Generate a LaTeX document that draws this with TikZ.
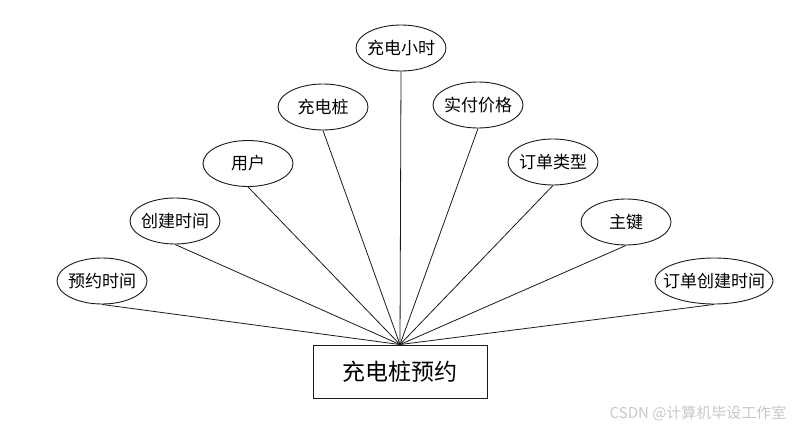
\documentclass[tikz,border=0pt]{standalone}
\usepackage{fontspec}
\setmainfont{Noto Sans CJK SC}
\usetikzlibrary{shapes.geometric}
\definecolor{erLine}{HTML}{1A1A1A}
\definecolor{erMark}{HTML}{C8C8C8}
\tikzset{
  er attr/.style={ellipse, draw=erLine, line width=0.9pt, minimum width=90pt, minimum height=46pt, inner xsep=-10pt, inner ysep=0pt, font=\fontsize{17}{19}\selectfont},
  er entity/.style={rectangle, draw=erLine, line width=0.9pt, minimum width=174pt, minimum height=53pt, inner sep=0pt, font=\fontsize{23}{26}\selectfont},
  er link/.style={draw=erLine, line width=0.8pt},
  er mark/.style={font=\fontsize{15}{17}\selectfont, text=erMark, anchor=east},
}
\begin{document}
\begin{tikzpicture}[x=1pt,y=-1pt]
\useasboundingbox (0,0) rectangle (800,430);
\node[er entity](booking)at(400,371.5){充电桩预约};
\node[er attr](a1)at(102,281){预约时间};
\node[er attr](a2)at(175,221){创建时间};
\node[er attr](a3)at(248,163.5){用户};
\node[er attr](a4)at(323,107){充电桩};
\node[er attr](a5)at(401,48){充电小时};
\node[er attr](a6)at(478,105){实付价格};
\node[er attr](a7)at(553,162){订单类型};
\node[er attr](a8)at(626,222){主键};
\node[er attr,minimum width=118pt](a9)at(714,281){订单创建时间};
\foreach \i in {1,...,9}{\draw[er link](a\i.south)--(booking.north);}
\node[er mark](wm)at(790,413){CSDN @计算机毕设工作室};
\end{tikzpicture}
\end{document}
